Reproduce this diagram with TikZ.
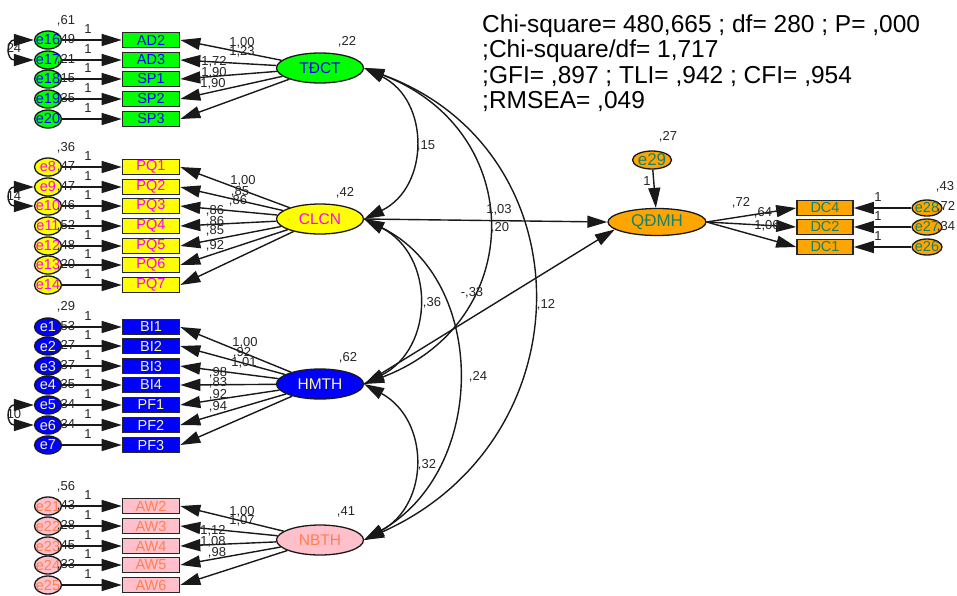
\documentclass[tikz,border=0pt]{standalone}
\usepackage{fontspec}
\setmainfont{Liberation Sans}
\usetikzlibrary{arrows.meta,shapes.geometric}
\definecolor{cgreen}{RGB}{0,255,0}
\definecolor{cblue}{RGB}{0,0,255}
\definecolor{cyellow}{RGB}{255,255,0}
\definecolor{cmag}{RGB}{255,0,255}
\definecolor{cpale}{RGB}{250,250,140}
\definecolor{cpink}{RGB}{255,192,203}
\definecolor{ccoral}{RGB}{255,127,80}
\definecolor{corange}{RGB}{255,165,0}
\definecolor{cteal}{RGB}{20,130,110}
\begin{document}
\begin{tikzpicture}[x=1pt,y=-1pt,
  obs/.style={rectangle, draw=black!85, line width=1.6pt, minimum width=57pt, minimum height=15pt, inner sep=0pt, font=\fontsize{14.5}{14.5}\selectfont},
  err/.style={ellipse, draw=black!90, line width=1.3pt, minimum width=27pt, minimum height=18pt, inner sep=0pt},
  etxt/.style={inner sep=0pt, font=\fontsize{14.5}{14.5}\selectfont},
  lat/.style={ellipse, draw=black!90, line width=1.3pt, minimum width=87pt, minimum height=30pt, inner sep=0pt},
  ltxt/.style={inner sep=0pt, font=\fontsize{15.5}{15.5}\selectfont},
  lbl/.style={font=\fontsize{13}{13}\selectfont, inner sep=0pt, text=black!85},
  arr/.style={line width=1.4pt, draw=black!90, -{Triangle[length=20pt,width=12pt]}},
  cov/.style={line width=1.4pt, draw=black!90, {Triangle[length=20pt,width=12pt]}-{Triangle[length=20pt,width=12pt]}},
  stat/.style={font=\fontsize{24.5}{24.5}\selectfont, anchor=base west, inner sep=0pt}
]
\useasboundingbox (0,0) rectangle (957,595);
\fill[white] (0,0) rectangle (957,595);

% ---------- TDCT group
\foreach \e/\b/\y in {e16/AD2/40,e17/AD3/60,e18/SP1/79,e19/SP2/99,e20/SP3/119}{
  \node[err, fill=cgreen] (\e) at (48,\y) {};
  \node[etxt, text=cblue] at (\e) {\e};
  \node[obs, fill=cgreen, text=cblue] (\b) at (151,\y) {\b};
  \draw[arr] (\e) -- (\b);
  \node[lbl] at (88,\y-11) {1};
}
\node[lat, fill=cgreen] (TDCT) at (320,68) {};
\node[ltxt, text=cblue] at (TDCT) {TĐCT};
\foreach \b in {AD2,AD3,SP1,SP2,SP3} \draw[arr] (TDCT) -- (\b.east);

% ---------- CLCN group
\foreach \e/\b/\y in {e8/PQ1/167,e9/PQ2/187,e10/PQ3/206,e11/PQ4/226,e12/PQ5/246,e13/PQ6/265,e14/PQ7/285}{
  \node[err, fill=cyellow] (\e) at (48,\y) {};
  \node[etxt, text=cmag] at (\e) {\e};
  \node[obs, fill=cyellow, text=cmag] (\b) at (151,\y) {\b};
  \draw[arr] (\e) -- (\b);
  \node[lbl] at (88,\y-11) {1};
}
\node[lat, fill=cyellow] (CLCN) at (320,219) {};
\node[ltxt, text=cmag] at (CLCN) {CLCN};
\foreach \b in {PQ1,PQ2,PQ3,PQ4,PQ5,PQ6,PQ7} \draw[arr] (CLCN) -- (\b.east);

% ---------- HMTH group
\foreach \e/\b/\y in {e1/BI1/327,e2/BI2/346,e3/BI3/366,e4/BI4/385,e5/PF1/405,e6/PF2/425,e7/PF3/445}{
  \node[err, fill=cblue] (\e) at (48,\y) {};
  \node[etxt, text=cpale] at (\e) {\e};
  \node[obs, fill=cblue, text=cpale] (\b) at (151,\y) {\b};
  \draw[arr] (\e) -- (\b);
  \node[lbl] at (88,\y-11) {1};
}
\node[lat, fill=cblue] (HMTH) at (320,384) {};
\node[ltxt, text=cpale] at (HMTH) {HMTH};
\foreach \b in {BI1,BI2,BI3,BI4,PF1,PF2,PF3} \draw[arr] (HMTH) -- (\b.east);

% ---------- NBTH group
\foreach \e/\b/\y in {e21/AW2/506,e22/AW3/526,e23/AW4/546,e24/AW5/565,e25/AW6/585}{
  \node[err, fill=cpink] (\e) at (48,\y) {};
  \node[etxt, text=ccoral] at (\e) {\e};
  \node[obs, fill=cpink, text=ccoral] (\b) at (151,\y) {\b};
  \draw[arr] (\e) -- (\b);
  \node[lbl] at (88,\y-11) {1};
}
\node[lat, fill=cpink] (NBTH) at (320,540) {};
\node[ltxt, text=ccoral] at (NBTH) {NBTH};
\foreach \b in {AW2,AW3,AW4,AW5,AW6} \draw[arr] (NBTH) -- (\b.east);

% ---------- error covariances
\draw[cov] (e16) .. controls (6,40) and (6,60) .. (e17);
\draw[cov] (e9) .. controls (6,187) and (6,206) .. (e10);
\draw[cov] (e5) .. controls (6,405) and (6,425) .. (e6);

% ---------- QDMH group
\node[lat, fill=corange, minimum width=98pt, minimum height=27pt] (QDMH) at (657,222) {};
\node[ltxt, text=cteal, font=\fontsize{17}{17}\selectfont] at (QDMH) {QĐMH};
\node[err, fill=corange, minimum width=39pt, minimum height=18pt] (e29) at (652,160) {};
\node[etxt, text=cteal, font=\fontsize{17}{17}\selectfont] at (e29) {e29};
\draw[arr] (e29) -- (QDMH);
\foreach \e/\b/\y in {e28/DC4/208,e27/DC2/227,e26/DC1/247}{
  \node[obs, fill=corange, text=cteal, minimum width=56pt] (\b) at (825,\y) {\b};
  \node[err, fill=corange, minimum width=30pt, minimum height=16pt] (\e) at (927,\y) {};
  \node[etxt, text=cteal] at (\e) {\e};
  \draw[arr] (\e) -- (\b);
  \draw[arr] (QDMH.east) -- (\b.west);
  \node[lbl] at (878,\y-11) {1};
}

% ---------- latent covariances
\draw[cov] (TDCT.east) .. controls (430,100) and (430,187) .. (CLCN.east);
\draw[cov] (CLCN.east) .. controls (435,255) and (435,348) .. (HMTH.east);
\draw[cov] (HMTH.east) .. controls (430,420) and (430,504) .. (NBTH.east);
\draw[cov] (TDCT.east) .. controls (528,130) and (528,322) .. (HMTH.east);
\draw[cov] (CLCN.east) .. controls (488,280) and (488,470) .. (NBTH.east);
\draw[cov] (TDCT.east) .. controls (588,150) and (588,440) .. (NBTH.east);

% ---------- regressions
\draw[arr] (CLCN.east) -- (QDMH.west);
\draw[arr] (HMTH.east) -- (QDMH.190);

% ---------- labels: error variances
\foreach \t/\y in {{,61}/21,{,49}/40,{,21}/60,{,15}/79,{,35}/99,
                   {,36}/148,{,47}/167,{,47}/187,{,46}/206,{,52}/226,{,48}/246,{,20}/265,
                   {,29}/307,{,53}/327,{,27}/346,{,37}/366,{,35}/385,{,34}/405,{,34}/425,
                   {,56}/487,{,43}/506,{,28}/526,{,45}/546,{,33}/565}
  \node[lbl] at (66,\y) {\t};

% error covariance labels
\node[lbl] at (14,48) {24};
\node[lbl] at (14,196) {14};
\node[lbl] at (14,414) {10};

% loadings
\node[lbl] at (242,43) {1,00};
\node[lbl] at (242,52) {1,23};
\node[lbl] at (214,62) {1,72};
\node[lbl] at (214,73) {1,90};
\node[lbl] at (213,84) {1,90};

\node[lbl] at (243,181) {1,00};
\node[lbl] at (240,192) {,85};
\node[lbl] at (238,201) {,86};
\node[lbl] at (215,211) {,86};
\node[lbl] at (215,222) {,86};
\node[lbl] at (215,231) {,85};
\node[lbl] at (215,246) {,92};

\node[lbl] at (245,343) {1,00};
\node[lbl] at (242,353) {,92};
\node[lbl] at (244,363) {1,01};
\node[lbl] at (218,373) {,98};
\node[lbl] at (218,383) {,83};
\node[lbl] at (218,395) {,92};
\node[lbl] at (218,407) {,94};

\node[lbl] at (242,512) {1,00};
\node[lbl] at (242,521) {1,07};
\node[lbl] at (213,531) {1,12};
\node[lbl] at (213,542) {1,08};
\node[lbl] at (217,553) {,98};

% latent variances
\node[lbl] at (347,42) {,22};
\node[lbl] at (345,193) {,42};
\node[lbl] at (348,358) {,62};
\node[lbl] at (346,512) {,41};

% covariance / path labels
\node[lbl] at (426,146) {,15};
\node[lbl] at (432,303) {,36};
\node[lbl] at (472,293) {-,33};
\node[lbl] at (546,305) {,12};
\node[lbl] at (478,377) {,24};
\node[lbl] at (427,465) {,32};
\node[lbl] at (499,210) {1,03};
\node[lbl] at (500,228) {,20};

% QDMH labels
\node[lbl] at (668,137) {,27};
\node[lbl] at (647,181) {1};
\node[lbl] at (741,203) {,72};
\node[lbl] at (763,213) {,64};
\node[lbl] at (767,226) {1,06};
\node[lbl] at (945,187) {,43};
\node[lbl] at (946,207) {,72};
\node[lbl] at (946,227) {,34};

% fit statistics
\node[stat] (s1) at (482,32) {Chi-square= 480,665 ; df= 280 ; P= ,000};
\node[stat] (s2) at (482,57.5) {;Chi-square/df= 1,717};
\node[stat] (s3) at (482,83) {;GFI= ,897 ; TLI= ,942 ; CFI= ,954};
\node[stat] (s4) at (482,108.5) {;RMSEA= ,049};
\end{tikzpicture}
\end{document}
